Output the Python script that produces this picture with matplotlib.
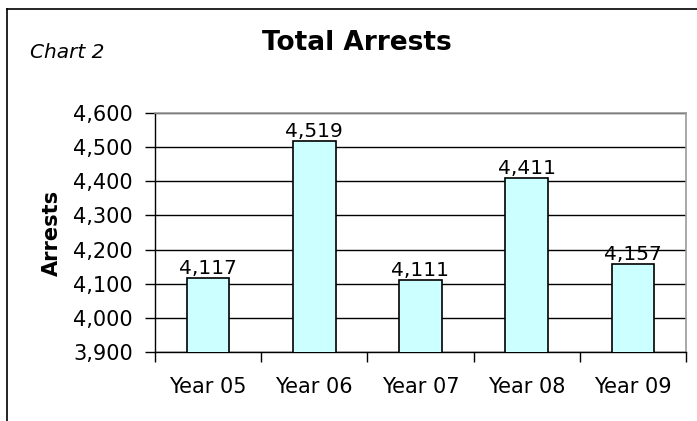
import numpy as np
import matplotlib.pyplot as plt

years = ["Year 05", "Year 06", "Year 07", "Year 08", "Year 09"]
arrests = [4117, 4519, 4111, 4411, 4157]
yticks = [3900, 4000, 4100, 4200, 4300, 4400, 4500, 4600]

fig = plt.figure(figsize=(6.97, 4.21), dpi=100)
fig.patch.set_facecolor("white")

# outer chart frame (left and top visible)
fig.add_artist(plt.Line2D([7 / 697, 7 / 697], [0, 1 - 9 / 421], color="black", lw=1.2))
fig.add_artist(plt.Line2D([7 / 697, 1], [1 - 9 / 421, 1 - 9 / 421], color="black", lw=1.2))

ax = fig.add_axes([155 / 697, 1 - 352 / 421, 531 / 697, 239 / 421])
x = np.arange(len(years))
ax.bar(x, arrests, width=0.4, color="#ccffff", edgecolor="black", linewidth=1.2, zorder=3)
ax.set_ylim(3900, 4600)
ax.set_xlim(-0.5, len(years) - 0.5)
ax.set_yticks(yticks)
ax.set_yticklabels([f"{v:,}" for v in yticks], fontsize=15)
ax.set_xticks(x)
ax.set_xticklabels(years, fontsize=15)
ax.set_xticks(np.arange(-0.5, len(years)), minor=True)
ax.tick_params(axis="x", which="major", length=0, pad=18)
ax.tick_params(axis="x", which="minor", length=7, width=1, color="black")
ax.tick_params(axis="y", length=7, width=1, pad=9)
ax.yaxis.grid(True, color="black", lw=1)
ax.set_axisbelow(True)
for s in ["top", "right"]:
    ax.spines[s].set_color("#999999")
    ax.spines[s].set_linewidth(1.2)
for s in ["left", "bottom"]:
    ax.spines[s].set_color("black")
    ax.spines[s].set_linewidth(1)

for xi, v in zip(x, arrests):
    ax.text(xi, v, f"{v:,}", ha="center", va="bottom", fontsize=14.5, zorder=4)

ax.set_ylabel("Arrests", fontsize=15, fontweight="bold", labelpad=8)
fig.text(357 / 697, 1 - 43 / 421, "Total Arrests", ha="center", va="center", fontsize=19, fontweight="bold")
fig.text(30 / 697, 1 - 52 / 421, "Chart 2", ha="left", va="center", fontsize=14.5, style="italic")

fig.savefig("out.png", dpi=100)
